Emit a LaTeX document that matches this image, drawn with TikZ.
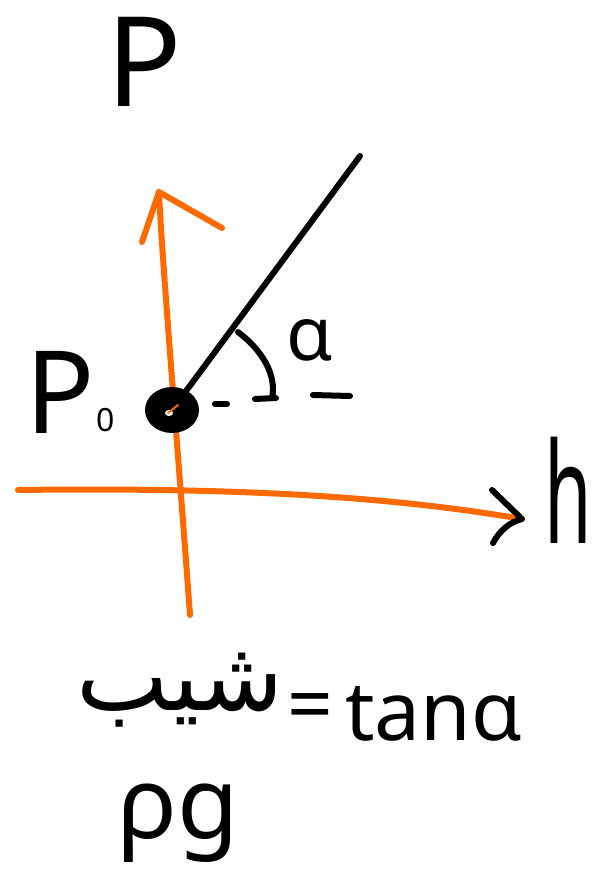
\documentclass[tikz,border=0pt]{standalone}
\usepackage{fontspec}
\setmainfont{Noto Sans}
\newfontfamily\arabicfont[Script=Arabic]{DejaVu Sans}
\TeXXeTstate=1
\usetikzlibrary{shapes.geometric}
\definecolor{axisorange}{RGB}{255,106,0}
\tikzset{
  axisline/.style={draw=axisorange, line width=6pt, line cap=round, line join=round},
  inkline/.style={draw=black, line width=6pt, line cap=round, line join=round},
  lbl/.style={inner sep=0pt, text=black},
}
\begin{document}
\begin{tikzpicture}[x=1pt,y=-1pt]
\useasboundingbox (0,0) rectangle (594,886);
% coordinates
\coordinate (vbot) at (190,615);
\coordinate (vtop) at (159,192);
\coordinate (hleft) at (18,490);
\coordinate (hright) at (522,519);
\coordinate (ltip) at (360,156);
% axes
\draw[axisline] (vbot) .. controls (178,450) and (162,260) .. (vtop);
\draw[axisline] (142,242) -- (vtop) -- (222,228);
\draw[axisline] (hleft) .. controls (250,487) and (400,498) .. (hright);
% black arrowhead on h axis
\draw[inkline] (492,490) -- (hright) .. controls (510,522) and (500,530) .. (493,543);
% inclined line and point
\node (dot) [ellipse, fill=black, minimum width=54pt, minimum height=46pt, inner sep=0pt] at (172,410) {};
\fill[white] (169,413) ellipse (4pt and 3pt);
\draw[axisorange, line width=2pt, line cap=round] (168,413) -- (178,405);
\draw[inkline] (dot) -- (ltip);
% angle arc
\draw[inkline] (238,332) .. controls (262,350) and (277,375) .. (272,398);
% dashed reference strokes
\draw[inkline] (215,404) -- (227,404);
\draw[inkline] (255,399) -- (276,398);
\draw[inkline] (313,395) -- (350,396);
% labels
\node[lbl] (P) at (144,62) {\fontsize{125}{125}\selectfont P};
\node[lbl] (P0) at (70,392) {\fontsize{115}{115}\selectfont P\kern1pt\raisebox{2pt}{\fontsize{32}{32}\selectfont 0}};
\node[lbl] (alpha) at (310,340) {\fontsize{75}{75}\selectfont α};
\node[lbl, xscale=0.55] (h) at (568,490) {\fontsize{140}{140}\selectfont h};
\node[lbl] (slope) at (180,690) {\arabicfont\fontsize{98}{98}\selectfont\beginR شیب\endR};
\node[lbl] (eq) at (310,713) {\fontsize{80}{80}\selectfont =};
\node[lbl, anchor=base west] (tan) at (345,740) {\fontsize{82}{82}\selectfont tanα};
\node[lbl, anchor=base] (rhog) at (178,838) {\fontsize{100}{100}\selectfont ρg};
\end{tikzpicture}
\end{document}
